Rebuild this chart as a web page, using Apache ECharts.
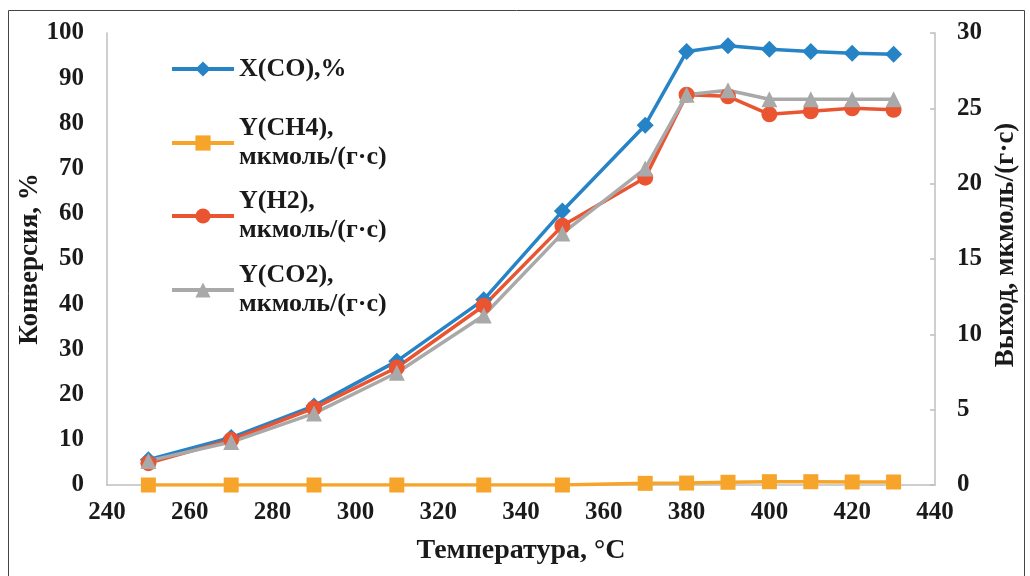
<!DOCTYPE html>
<html><head><meta charset="utf-8">
<script src="https://cdn.jsdelivr.net/npm/echarts@6/dist/echarts.min.js"></script>
<style>html,body{margin:0;padding:0;background:#fff}#c{width:1030px;height:576px}</style>
</head><body><div id="c"></div>
<script>
const temps = [250, 270, 290, 310, 331, 350, 370, 380, 390, 400, 410, 420, 430];
const xCO  = [5.6, 10.5, 17.5, 27.4, 41.0, 60.6, 79.6, 95.9, 97.2, 96.4, 95.9, 95.5, 95.3];
const yCH4 = [0, 0, 0, 0, 0, 0, 0.11, 0.13, 0.18, 0.22, 0.22, 0.2, 0.2];
const yH2  = [1.45, 3.0, 5.1, 7.8, 11.9, 17.2, 20.4, 25.9, 25.8, 24.6, 24.8, 25.0, 24.9];
const yCO2 = [1.6, 2.85, 4.75, 7.45, 11.25, 16.7, 21.0, 25.9, 26.2, 25.6, 25.6, 25.6, 25.6];
const names = ['X(CO),%', 'Y(CH4), мкмоль/(г·с)', 'Y(H2), мкмоль/(г·с)', 'Y(CO2), мкмоль/(г·с)'];
const xTitle = 'Температура, °C';
const yLeftTitle = 'Конверсия, %';
const yRightTitle = 'Выход, мкмоль/(г·с)';

const font = '"Liberation Serif", "Times New Roman", serif';
const pair = (ys) => temps.map((t, i) => [t, ys[i]]);
const axisGray = '#bfbfbf';

const chart = echarts.init(document.getElementById('c'));
const lblStyle = {fontFamily: font, fontWeight: 'bold', fontSize: 25, color: '#1a1a1a'};
const legendBase = (name, top, twoLine) => ({
  data: [name], left: 170, top: top, padding: 0, itemWidth: 62, itemHeight: 19,
  formatter: (n) => n.replace(', ', ',\n'),
  lineStyle: {width: 4},
  textStyle: Object.assign({}, lblStyle, {fontSize: 26, lineHeight: 29, padding: twoLine ? [29, 0, 0, 0] : [0, 0, 0, 0]}),
  selectedMode: false
});
chart.setOption({
  animation: false,
  grid: {left: 107, right: 95, top: 33, bottom: 91},
  graphic: [{type: 'rect', shape: {x: 8.5, y: 10.5, width: 1016, height: 600}, style: {fill: 'none', stroke: '#444', lineWidth: 1}, silent: true}],
  legend: [
    legendBase(names[0], 54.5, false),
    legendBase(names[1], 99.5, true),
    legendBase(names[2], 172.5, true),
    legendBase(names[3], 246.5, true)
  ],
  xAxis: {
    type: 'value', min: 240, max: 440, interval: 20,
    name: xTitle, nameLocation: 'middle', nameGap: 52,
    nameTextStyle: Object.assign({}, lblStyle, {fontSize: 28}),
    axisLine: {lineStyle: {color: axisGray, width: 1.5}},
    axisTick: {show: false},
    splitLine: {show: false},
    axisLabel: Object.assign({}, lblStyle, {margin: 15})
  },
  yAxis: [{
    type: 'value', min: 0, max: 100, interval: 10,
    name: yLeftTitle, nameLocation: 'middle', nameGap: 63, nameMoveOverlap: false,
    nameTextStyle: Object.assign({}, lblStyle, {fontSize: 27}),
    axisLine: {show: true, lineStyle: {color: axisGray, width: 1.5}},
    axisTick: {show: false},
    splitLine: {show: false},
    axisLabel: Object.assign({}, lblStyle, {margin: 23})
  }, {
    type: 'value', min: 0, max: 30, interval: 5, position: 'right',
    name: yRightTitle, nameLocation: 'middle', nameGap: 54, nameRotate: 90,
    nameTextStyle: Object.assign({}, lblStyle, {fontSize: 27, padding: [0, 0, 0, 28]}),
    axisLine: {show: true, lineStyle: {color: axisGray, width: 1.5}},
    axisTick: {show: true, inside: true, length: 5, lineStyle: {color: axisGray, width: 1.5}},
    splitLine: {show: false},
    axisLabel: Object.assign({}, lblStyle, {margin: 22})
  }],
  series: [
    {name: names[0], type: 'line', yAxisIndex: 0, data: pair(xCO), symbol: 'diamond', symbolSize: 17,
     lineStyle: {width: 3.5, color: '#2683c6'}, itemStyle: {color: '#2683c6'}},
    {name: names[1], type: 'line', yAxisIndex: 1, data: pair(yCH4), symbol: 'rect', symbolSize: 15,
     lineStyle: {width: 3.5, color: '#f6a52a'}, itemStyle: {color: '#f6a52a'}},
    {name: names[2], type: 'line', yAxisIndex: 1, data: pair(yH2), symbol: 'circle', symbolSize: 16,
     lineStyle: {width: 3.5, color: '#ea5430'}, itemStyle: {color: '#ea5430'}},
    {name: names[3], type: 'line', yAxisIndex: 1, data: pair(yCO2), symbol: 'triangle', symbolSize: 16,
     lineStyle: {width: 3.5, color: '#a9a9a9'}, itemStyle: {color: '#a9a9a9'}}
  ]
});
</script></body></html>
